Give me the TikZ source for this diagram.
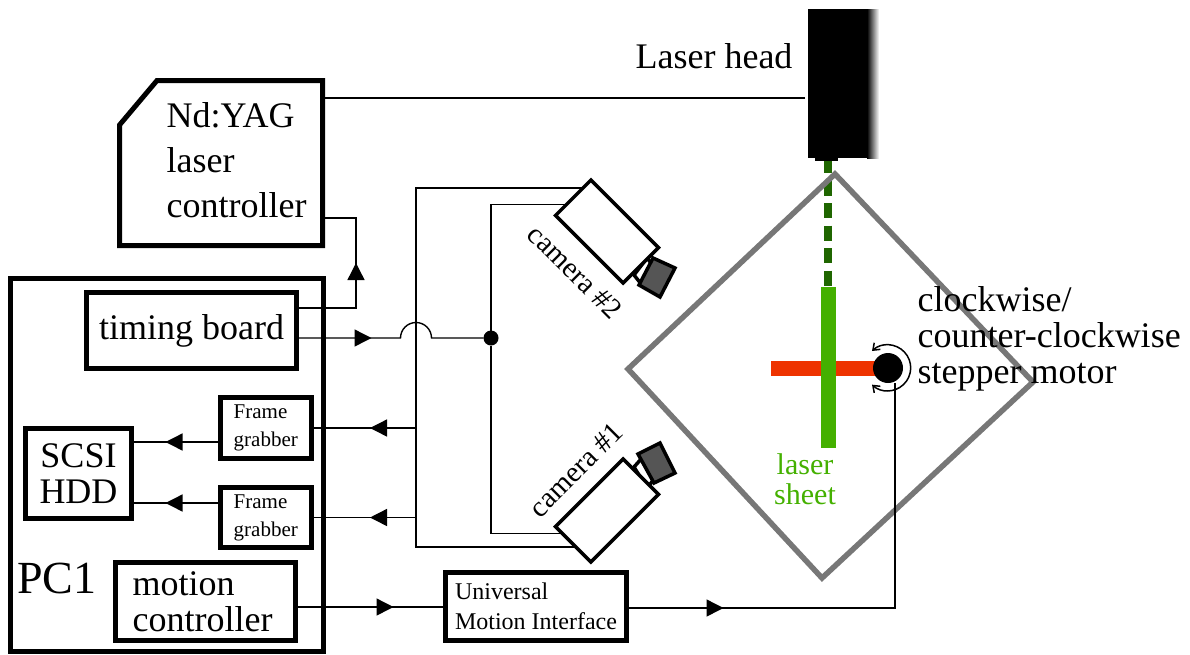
\documentclass[tikz,border=0pt]{standalone}
\usepackage{fontspec}
\setmainfont{Liberation Serif}
\usepackage{xcolor}
\usetikzlibrary{arrows.meta,calc,decorations.markings}
\definecolor{framegray}{HTML}{777777}
\definecolor{lensgray}{HTML}{555555}
\definecolor{sheetgreen}{HTML}{44B000}
\definecolor{beamgreen}{HTML}{1F6600}
\definecolor{mirrorred}{HTML}{EE3300}
\tikzset{
  boxline/.style={draw,line width=5pt,outer sep=0pt,inner sep=0pt,align=center},
  sigline/.style={line width=1.4pt},
  midtip/.style={postaction={decorate},decoration={markings,mark=at position #1 with {\arrow{Triangle[length=17pt,width=17pt]}}}},
  cambody/.style={draw,fill=white,line width=3.5pt,outer sep=0pt,minimum width=95.5pt,minimum height=50pt},
  bigtext/.style={font=\fontsize{36}{36}\selectfont},
  smalltext/.style={font=\fontsize{21}{28}\selectfont,align=left},
}
\begin{document}
\begin{tikzpicture}[x=1pt,y=-1pt]
  \useasboundingbox (0,0) rectangle (1190,654);
  % boxes of the PC
  \node[boxline,minimum width=313pt,minimum height=372.5pt] (pcone) at (167,464.75) {};
  \node[boxline,bigtext,minimum width=210pt,minimum height=76pt] (timing) at (191.5,330.5) {\raisebox{-2pt}{timing board}};
  \node[boxline,smalltext,minimum width=90.5pt,minimum height=61pt] (fgone) at (265.75,428) {Frame\\grabber};
  \node[boxline,smalltext,minimum width=90.5pt,minimum height=60pt] (fgtwo) at (265.75,517.5) {Frame\\grabber};
  \node[boxline,bigtext,minimum width=106pt,minimum height=90pt] (scsi) at (78.5,473.5) {SCSI\\HDD};
  \node[boxline,bigtext,align=left,minimum width=180pt,minimum height=78pt] (motion) at (205.5,601.5) {motion\\controller\hspace*{6pt}};
  \node[font=\fontsize{46}{46}\selectfont] (pclabel) at (57,578) {PC1};
  \node[boxline,font=\fontsize{24}{30}\selectfont,align=left,minimum width=181pt,minimum height=68pt] (umi) at (536,606.5) {Universal\\Motion Interface};
  % laser controller
  \node[outer sep=0pt,inner sep=0pt,minimum width=203pt,minimum height=165pt] (yag) at (221,163) {};
  \draw[line width=5pt,line join=miter] ($(yag.north west)+(37.5,0)$) -- (yag.north east) -- (yag.south east) -- (yag.south west) -- ($(yag.north west)+(0,44.5)$) -- cycle;
  \node[font=\fontsize{36}{45}\selectfont,align=left,anchor=west] (yagtext) at (163,160) {Nd:YAG\\laser\\controller};
  % beam under the head
  \draw[beamgreen,line width=8pt,dash pattern=on 15pt off 7.5pt] (828,158) -- (828,285.5);
  % laser head
  \node[fill=black,outer sep=0pt,inner sep=0pt,minimum width=59pt,minimum height=149pt] (head) at (837.5,83.5) {};
  \shade[left color=black,right color=white] (head.north east) rectangle ($(head.south east)+(12,0)$);
  \fill (815,158) rectangle (838,161);
  \node[font=\fontsize{36}{36}\selectfont,anchor=east] (headtext) at (796,56) {Laser head};
  % sheet, mirror
  \fill[mirrorred] (771,361) rectangle (880,376);
  \node[fill=sheetgreen,outer sep=0pt,inner sep=0pt,minimum width=14.5pt,minimum height=161pt] (sheet) at (828.25,367.5) {};
  \node[font=\fontsize{30}{30}\selectfont,text=sheetgreen,align=center] (sheettext) at (805,479) {laser\\sheet};
  \draw[framegray,line width=5.5pt,line join=miter] (835,174) -- (1033,382) -- (822,578) -- (628,369) -- cycle;
  % motor
  \node[circle,fill=black,minimum size=30pt,inner sep=0pt,outer sep=0pt] (motor) at (888,368) {};
  \draw[line width=1.5pt,{Straight Barb[length=6pt,width=9pt]}-{Straight Barb[length=6pt,width=9pt]}] (872,351) arc[start angle=-133,end angle=133,radius=23];
  \node[font=\fontsize{36}{36}\selectfont,align=left,anchor=west] (motortext) at (914,339) {clockwise/\\counter-clockwise\\stepper motor};
  % cameras
  \draw[line width=3.5pt,fill=white] (647,258) -- (634,275) -- (642,285) -- (655,268) -- cycle;
  \draw[line width=3.5pt,fill=lensgray] (653,258) -- (675,268) -- (660,297) -- (639,285) -- cycle;
  \node[cambody,rotate=-45] (camtwo) at (607,231.5) {};
  \node[font=\fontsize{29}{30}\selectfont,rotate=-45] (camtwotext) at (575,272) {camera \#2};
  \draw[line width=3.5pt,fill=white] (634,467) -- (642,458) -- (655,478) -- (647,488) -- cycle;
  \draw[line width=3.5pt,fill=lensgray] (638,454) -- (660,443) -- (675,473) -- (654,483) -- cycle;
  \node[cambody,rotate=45] (camone) at (607,510.5) {};
  \node[font=\fontsize{29}{30}\selectfont,rotate=45] (camonetext) at (576,470) {camera \#1};
  \coordinate (camtwoa) at ($(camtwo.north west)!.23!(camtwo.south west)$);
  \coordinate (camtwob) at ($(camtwo.north west)!.69!(camtwo.south west)$);
  \coordinate (camonea) at ($(camone.north west)!.19!(camone.south west)$);
  \coordinate (camoneb) at ($(camone.north west)!.58!(camone.south west)$);
  \node[circle,fill=black,minimum size=15pt,inner sep=0pt,outer sep=0pt] (junction) at (491,338) {};
  \coordinate (wirex) at (416,338);
  % signal lines
  \draw[sigline] ([yshift=-14.5pt,xshift=-3pt]head.west) -- ([yshift=65pt]yag.east);
  \draw[sigline,midtip=104.5pt] ([yshift=22.5pt]timing.east) -| (356,218) -- ([yshift=-55pt]yag.east);
  \draw[sigline,midtip=75pt] ([yshift=-7.5pt]timing.east) -- (400.5,338) arc[start angle=180,end angle=360,radius=15.5] -- (junction);
  \draw[sigline] (camtwob) -| (junction) |- (camonea);
  \draw[sigline,midtip=-59pt] (camtwoa) -| (wirex) |- (fgone.east);
  \draw[sigline,midtip=-59pt] (camoneb) -| (wirex) |- (fgtwo.east);
  \draw[sigline,midtip=-34pt] (fgone.west |- 0,442) -- (scsi.east |- 0,442);
  \draw[sigline,midtip=-34pt] (fgtwo.west |- 0,503) -- (scsi.east |- 0,503);
  \draw[sigline,midtip=98pt] ([yshift=-5.5pt]motion.east) -- ([yshift=-.5pt]umi.west);
  \draw[sigline,midtip=97pt] ([yshift=-1.5pt]umi.east) -| (895,383);
\end{tikzpicture}
\end{document}
